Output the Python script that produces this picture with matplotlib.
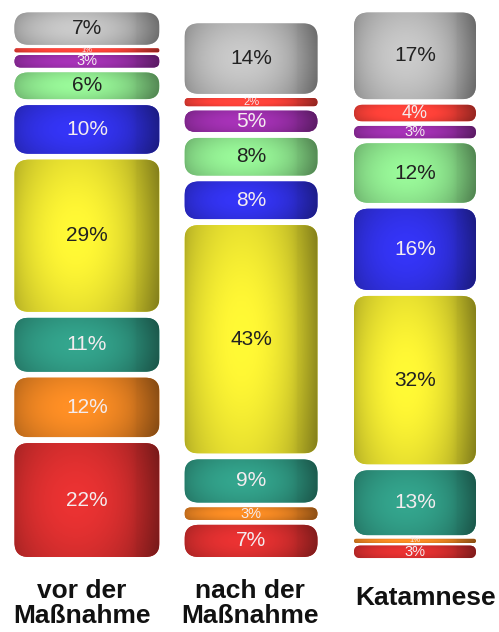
import matplotlib
matplotlib.use('Agg')
import matplotlib.pyplot as plt
import numpy as np
from matplotlib.patches import FancyBboxPatch
from matplotlib.colors import to_rgb

groups = ['vor der\nMaßnahme', 'nach der\nMaßnahme', 'Katamnese']
# segments stacked from the bottom up
colors = ['#c42a2a', '#d6781f', '#2b8a76', '#d7d02c', '#2c2ccf',
          '#80d080', '#8c2a9a', '#e23a32', '#a9a9a9']
vor = [22, 12, 11, 29, 10, 6, 3, 1, 7]
nach = [7, 3, 9, 43, 8, 8, 5, 2, 14]
katamnese = [3, 1, 13, 32, 16, 12, 3, 4, 17]
dark_text = [False, False, False, True, False, True, False, False, True]

columns = [vor, nach, katamnese]

# layout (pixels of the 499x632 output)
W, H = 499, 632
scale = 5.45            # px per percent
base = 560              # px from top where the stacks start
centers = [87, 251, 415]
widths = [145, 133, 122]
label_x = [82, 250, 426]


def shade(color):
    # horizontal highlight + darker right side, slight vertical falloff
    t = np.linspace(0, 1, 160)
    f = 0.88 + 0.30 * np.sin(np.pi * np.clip(t / 0.85, 0, 1)) ** 0.6
    f = np.where(t > 0.86, f * (1 - 1.8 * (t - 0.86)), f)
    v = np.linspace(0, 1, 40)[:, None]
    g = f[None, :] * (0.92 + 0.1 * np.sin(np.pi * v))
    rgb = np.array(to_rgb(color))
    return np.clip(rgb[None, None, :] * g[:, :, None], 0, 1)


fig = plt.figure(figsize=(W / 100, H / 100), dpi=100)
ax = fig.add_axes([0, (H - base) / H, 1, base / H])
ax.set_xlim(0, W / scale)
ax.set_ylim(0, base / scale)
ax.axis('off')

for ci, vals in enumerate(columns):
    xc = centers[ci] / scale
    w = widths[ci] / scale
    bottom = 0
    for si, v in enumerate(vals):
        gap = min(0.55, v * 0.12)
        y0 = bottom + gap
        h = v - 2 * gap
        r = min(2.6, h / 2)
        box = FancyBboxPatch((xc - w / 2, y0), w, h,
                             boxstyle='round,pad=0,rounding_size=%f' % r,
                             facecolor=colors[si], edgecolor='none')
        ax.add_patch(box)
        im = ax.imshow(shade(colors[si]), extent=(xc - w / 2, xc + w / 2, y0, y0 + h),
                       aspect='auto', interpolation='bilinear', zorder=2)
        im.set_clip_path(box)
        fs = min(15, 3 + 2.5 * v)
        tc = '#222222' if dark_text[si] else '#f4ecef'
        ax.text(xc, bottom + v / 2, '%d%%' % v, ha='center', va='center',
                fontsize=fs, color=tc, family='Liberation Sans', zorder=3)
        bottom += v

for ci, name in enumerate(groups):
    yy = -8.0 if '\n' in name else -7.0
    ax.text(label_x[ci] / scale, yy, name, ha='center', va='center',
            fontsize=19, fontweight='bold', color='#111111',
            family='Liberation Sans', linespacing=1.05, clip_on=False)

fig.savefig('out.png', dpi=100)
